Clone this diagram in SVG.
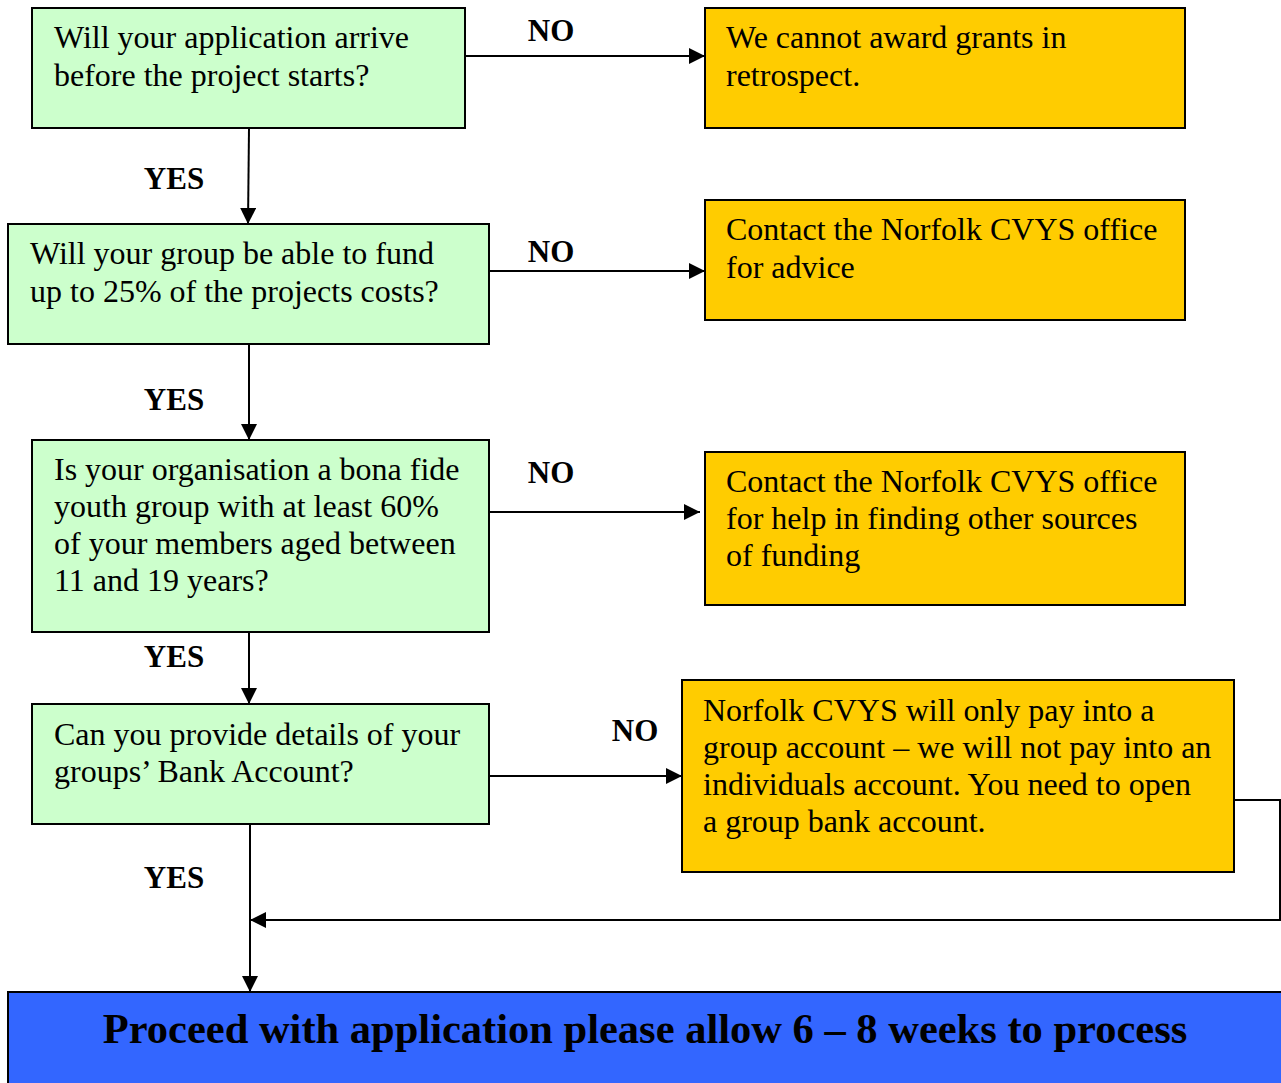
<svg xmlns="http://www.w3.org/2000/svg" width="1281" height="1083" viewBox="0 0 1281 1083">
<style>
.g{fill:#CCFFCC;stroke:#000;stroke-width:2}
.o{fill:#FFCC00;stroke:#000;stroke-width:2}
.b{fill:#3366FF;stroke:#000;stroke-width:2}
text{font-family:"Liberation Serif","Times New Roman",serif;fill:#000}
.t{font-size:32px}
.l{font-size:31px;font-weight:bold;text-anchor:middle}
.c{stroke:#000;stroke-width:2;fill:none}
</style>
<defs>
<marker id="ah" viewBox="0 0 10 10" refX="10" refY="5" markerWidth="16" markerHeight="16" markerUnits="userSpaceOnUse" orient="auto"><path d="M0,0L10,5L0,10z" fill="#000"/></marker>
</defs>
<g id="connectors">
<path class="c" d="M249,128L248,224" marker-end="url(#ah)"/>
<path class="c" d="M249,344L249,440" marker-end="url(#ah)"/>
<path class="c" d="M249,632L249,704" marker-end="url(#ah)"/>
<path class="c" d="M250,824L250,992" marker-end="url(#ah)"/>
<path class="c" d="M465,56L705,56" marker-end="url(#ah)"/>
<path class="c" d="M489,271L705,271" marker-end="url(#ah)"/>
<path class="c" d="M489,512L700,512" marker-end="url(#ah)"/>
<path class="c" d="M489,776L682,776" marker-end="url(#ah)"/>
<path class="c" d="M1234,800L1280,800L1280,920L250,920" marker-end="url(#ah)"/>
<text class="l" x="551" y="41">NO</text>
<text class="l" x="174" y="189">YES</text>
<text class="l" x="551" y="262">NO</text>
<text class="l" x="174" y="410">YES</text>
<text class="l" x="551" y="483">NO</text>
<text class="l" x="174" y="667">YES</text>
<text class="l" x="635" y="741">NO</text>
<text class="l" x="174" y="888">YES</text>
</g>
<g id="q1"><rect class="g" x="32" y="8" width="433" height="120"/>
<text class="t" x="54" y="48">Will your application arrive</text><text class="t" x="54" y="86">before the project starts?</text></g>
<g id="n1"><rect class="o" x="705" y="8" width="480" height="120"/>
<text class="t" x="726" y="48">We cannot award grants in</text><text class="t" x="726" y="86">retrospect.</text></g>
<g id="q2"><rect class="g" x="8" y="224" width="481" height="120"/>
<text class="t" x="30" y="264">Will your group be able to fund</text><text class="t" x="30" y="302">up to 25% of the projects costs?</text></g>
<g id="n2"><rect class="o" x="705" y="200" width="480" height="120"/>
<text class="t" x="726" y="240">Contact the Norfolk CVYS office</text><text class="t" x="726" y="278">for advice</text></g>
<g id="q3"><rect class="g" x="32" y="440" width="457" height="192"/>
<text class="t" x="54" y="480">Is your organisation a bona fide</text><text class="t" x="54" y="517">youth group with at least 60%</text><text class="t" x="54" y="554">of your members aged between</text><text class="t" x="54" y="591">11 and 19 years?</text></g>
<g id="n3"><rect class="o" x="705" y="452" width="480" height="153"/>
<text class="t" x="726" y="492">Contact the Norfolk CVYS office</text><text class="t" x="726" y="529">for help in finding other sources</text><text class="t" x="726" y="566">of funding</text></g>
<g id="q4"><rect class="g" x="32" y="704" width="457" height="120"/>
<text class="t" x="54" y="745">Can you provide details of your</text><text class="t" x="54" y="782">groups’ Bank Account?</text></g>
<g id="n4"><rect class="o" x="682" y="680" width="552" height="192"/>
<text class="t" x="703" y="721">Norfolk CVYS will only pay into a</text><text class="t" x="703" y="758">group account – we will not pay into an</text><text class="t" x="703" y="795">individuals account. You need to open</text><text class="t" x="703" y="832">a group bank account.</text></g>
<g id="end"><rect class="b" x="8" y="992" width="1285" height="100"/>
<text x="645" y="1043" style="font-size:42.5px;font-weight:bold;text-anchor:middle">Proceed with application please allow 6 – 8 weeks to process</text></g>
</svg>
